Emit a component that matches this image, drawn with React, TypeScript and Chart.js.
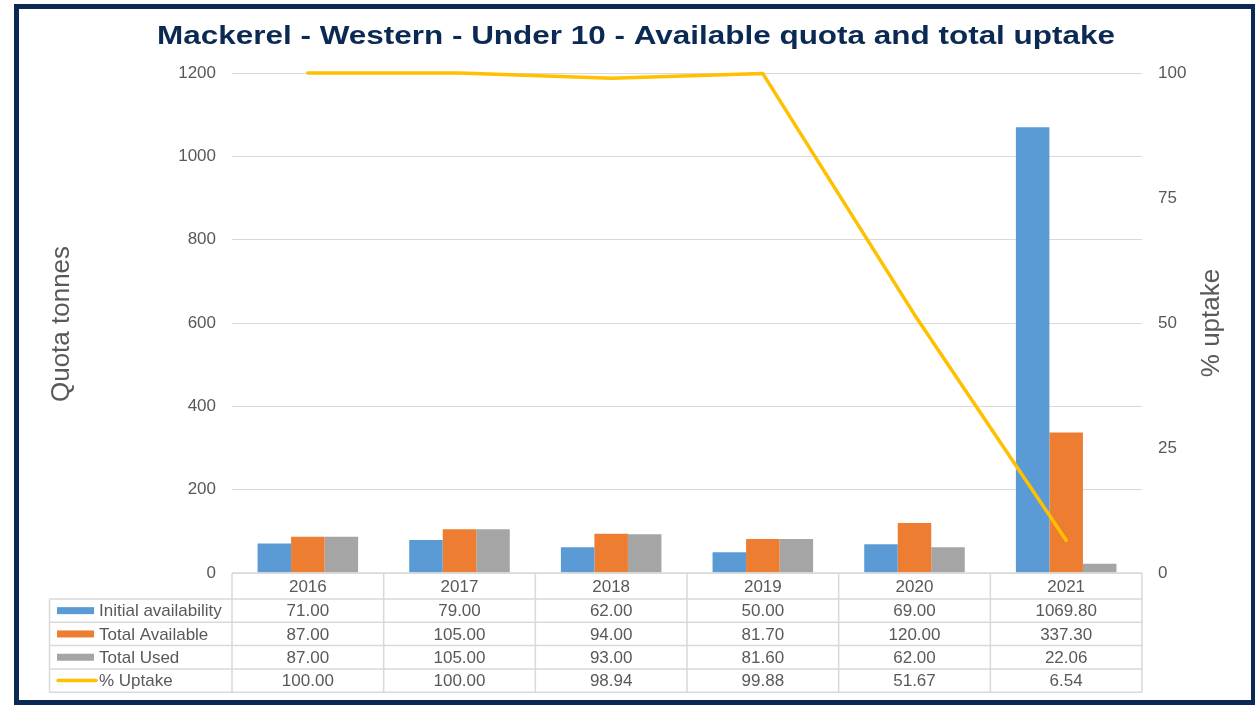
import React, { useEffect, useRef } from "react";
import { Chart, registerables } from "chart.js";

Chart.register(...registerables);

const categories = ["2016", "2017", "2018", "2019", "2020", "2021"];
const initialAvailability = [71, 79, 62, 50, 69, 1069.8];
const totalAvailable = [87, 105, 94, 81.7, 120, 337.3];
const totalUsed = [87, 105, 93, 81.6, 62, 22.06];
const uptakePct = [100, 100, 98.94, 99.88, 51.67, 6.54];

const seriesNames = ["Initial availability", "Total Available", "Total Used", "% Uptake"];
const seriesColors = ["#5B9BD5", "#ED7D31", "#A5A5A5", "#FFC000"];

const titleText = "Mackerel - Western - Under 10 - Available quota and total uptake";
const leftAxisTitle = "Quota tonnes";
const rightAxisTitle = "% uptake";

const FONT = "'Liberation Sans', Arial, sans-serif";
const TEXT = "#595959";
const GRID = "#D9D9D9";
const NAVY = "#0B2A53";

const tablePlugin = {
  id: "tableAndDecor",
  beforeDraw(chart: any) {
    const ctx = chart.ctx;
    ctx.save();
    ctx.fillStyle = "#ffffff";
    ctx.fillRect(0, 0, chart.width, chart.height);
    ctx.restore();
  },
  afterDraw(chart: any) {
    const ctx = chart.ctx;
    const area = chart.chartArea;
    const xs = chart.scales.x;
    const n = categories.length;
    const colW = (area.right - area.left) / n;
    const top = area.bottom;
    const headerH = 26;
    const rowH = 23.3;
    const tableLeft = 49.5;
    const rowsData = [initialAvailability, totalAvailable, totalUsed, uptakePct];
    const tableBottom = top + headerH + rowH * rowsData.length;

    ctx.save();
    ctx.strokeStyle = GRID;
    ctx.lineWidth = 1.5;
    ctx.beginPath();
    ctx.moveTo(area.left, top);
    ctx.lineTo(area.right, top);
    for (let r = 0; r <= rowsData.length; r++) {
      const y = top + headerH + r * rowH;
      ctx.moveTo(tableLeft, y);
      ctx.lineTo(area.right, y);
    }
    for (let i = 0; i <= n; i++) {
      const x = area.left + i * colW;
      ctx.moveTo(x, top);
      ctx.lineTo(x, tableBottom);
    }
    ctx.moveTo(tableLeft, top + headerH);
    ctx.lineTo(tableLeft, tableBottom);
    ctx.stroke();

    ctx.fillStyle = TEXT;
    ctx.font = `17px ${FONT}`;
    ctx.textAlign = "center";
    ctx.textBaseline = "middle";
    categories.forEach((c, i) => {
      ctx.fillText(c, xs.getPixelForValue(i), top + headerH / 2 + 1);
    });
    rowsData.forEach((arr, r) => {
      const yc = top + headerH + r * rowH + rowH / 2 + 1;
      arr.forEach((v, i) => {
        ctx.fillText(v.toFixed(2), xs.getPixelForValue(i), yc);
      });
    });
    ctx.textAlign = "left";
    seriesNames.forEach((name, r) => {
      const yc = top + headerH + r * rowH + rowH / 2;
      if (r < 3) {
        ctx.fillStyle = seriesColors[r];
        ctx.fillRect(57, yc - 3.5, 37, 7);
      } else {
        ctx.strokeStyle = seriesColors[r];
        ctx.lineWidth = 3.5;
        ctx.lineCap = "round";
        ctx.beginPath();
        ctx.moveTo(58, yc);
        ctx.lineTo(96, yc);
        ctx.stroke();
      }
      ctx.fillStyle = TEXT;
      ctx.fillText(name, 99, yc + 1);
    });

    ctx.font = `26px ${FONT}`;
    ctx.fillStyle = TEXT;
    ctx.textAlign = "center";
    ctx.save();
    ctx.translate(62, 324);
    ctx.rotate(-Math.PI / 2);
    ctx.fillText(leftAxisTitle, 0, 0);
    ctx.restore();
    ctx.save();
    ctx.translate(1212, 323);
    ctx.rotate(-Math.PI / 2);
    ctx.fillText(rightAxisTitle, 0, 0);
    ctx.restore();

    ctx.font = `bold 25px ${FONT}`;
    ctx.fillStyle = NAVY;
    const w = ctx.measureText(titleText).width;
    const sx = 958 / w;
    ctx.save();
    ctx.translate(636, 37);
    ctx.scale(sx, 1);
    ctx.fillText(titleText, 0, 0);
    ctx.restore();

    ctx.strokeStyle = NAVY;
    ctx.lineWidth = 5;
    ctx.strokeRect(16.5, 6.5, 1237, 696);
    ctx.restore();
  },
};

export default function App() {
  const ref = useRef<HTMLCanvasElement | null>(null);
  useEffect(() => {
    if (!ref.current) return;
    Chart.defaults.font.family = FONT;
    const chart = new Chart(ref.current, {
      type: "bar",
      data: {
        labels: categories,
        datasets: [
          {
            type: "line",
            label: seriesNames[3],
            data: uptakePct,
            yAxisID: "y1",
            borderColor: seriesColors[3],
            backgroundColor: seriesColors[3],
            borderWidth: 3.5,
            pointRadius: 0,
            tension: 0,
            borderCapStyle: "round",
            borderJoinStyle: "round",
            clip: false,
            order: 0,
          } as any,
          {
            label: seriesNames[0],
            data: initialAvailability,
            backgroundColor: seriesColors[0],
            yAxisID: "y",
            order: 1,
          },
          {
            label: seriesNames[1],
            data: totalAvailable,
            backgroundColor: seriesColors[1],
            yAxisID: "y",
            order: 1,
          },
          {
            label: seriesNames[2],
            data: totalUsed,
            backgroundColor: seriesColors[2],
            yAxisID: "y",
            order: 1,
          },
        ],
      },
      options: {
        responsive: false,
        animation: false,
        devicePixelRatio: 1,
        layout: { padding: { top: 73, left: 0, right: 0, bottom: 132 } },
        datasets: {
          bar: { categoryPercentage: 0.663, barPercentage: 1 },
        },
        plugins: {
          legend: { display: false },
          title: { display: false },
          tooltip: { enabled: false },
        },
        scales: {
          x: {
            display: false,
          },
          y: {
            position: "left",
            min: 0,
            max: 1200,
            ticks: {
              stepSize: 200,
              color: TEXT,
              font: { size: 17, family: FONT },
              padding: 16,
              callback: (v: any) => String(v),
            },
            grid: { color: GRID, lineWidth: 1, drawTicks: false },
            border: { display: false },
            afterFit(scale: any) {
              scale.width = 232;
            },
          },
          y1: {
            position: "right",
            min: 0,
            max: 100,
            ticks: {
              stepSize: 25,
              color: TEXT,
              font: { size: 17, family: FONT },
              padding: 16,
              callback: (v: any) => String(v),
            },
            grid: { drawOnChartArea: false, drawTicks: false },
            border: { display: false },
            afterFit(scale: any) {
              scale.width = 113;
            },
          },
        },
      },
      plugins: [tablePlugin],
    });
    return () => chart.destroy();
  }, []);
  return (
    <div style={{ position: "absolute", left: 0, top: 0, width: 1255, height: 705 }}>
      <canvas ref={ref} width={1255} height={705} style={{ display: "block", width: 1255, height: 705 }} />
    </div>
  );
}
